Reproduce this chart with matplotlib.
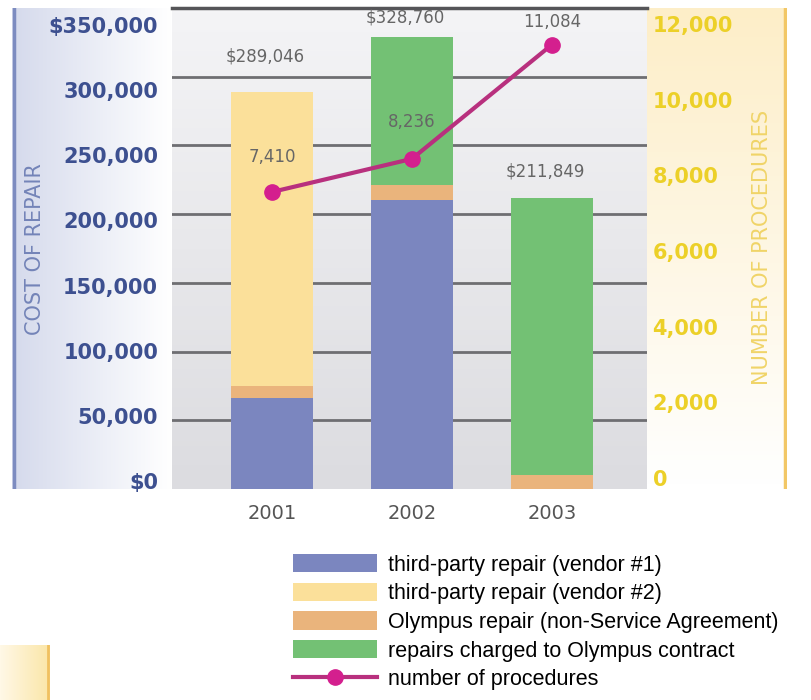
import numpy as np
import matplotlib.pyplot as plt
import matplotlib.transforms as mtransforms
from matplotlib.patches import Patch
from matplotlib.lines import Line2D
from matplotlib.colors import LinearSegmentedColormap

# data
years = ['2001', '2002', '2003']
vendor1 = [66200, 210300, 0]
vendor2 = [214146, 0, 0]
olympus_repair = [8700, 10900, 10000]
contract = [0, 107560, 201849]
totals = [289046, 328760, 211849]
procedures = [7410, 8236, 11084]

series_names = ['third-party repair (vendor #1)', 'third-party repair (vendor #2)',
                'Olympus repair (non-Service Agreement)', 'repairs charged to Olympus contract']
series_colors = ['#7b86bf', '#fbe09a', '#eab47c', '#73c174']
line_color = '#b8307e'
marker_color = '#d41f8e'

plt.rcParams['font.family'] = ['DejaVu Sans']

fig = plt.figure(figsize=(8.12, 7.00), dpi=100)
W, H = 812, 700
bot, top = (H - 489) / H, (H - 8) / H

# left panel (blue -> white gradient)
lp = fig.add_axes([12 / W, bot, 160 / W, top - bot])
lp.imshow(np.linspace(0, 1, 100).reshape(1, -1), aspect='auto', extent=[0, 1, 0, 1],
          cmap=LinearSegmentedColormap.from_list('l', ['#d5daec', '#ffffff']))
lp.axvline(0.01, color='#7d8cc0', lw=2.5)
lp.set_axis_off()

# right panel (white -> cream gradient)
rp = fig.add_axes([647 / W, bot, 140 / W, top - bot])
rp.imshow(np.linspace(0, 1, 100).reshape(-1, 1), aspect='auto', extent=[0, 1, 0, 1],
          cmap=LinearSegmentedColormap.from_list('r', ['#fdeec8', '#ffffff']))
rp.axvline(0.985, color='#f2c766', lw=2.5)
rp.set_axis_off()

# bottom-left decorative square
sq = fig.add_axes([0, 0, 50 / W, 55 / H])
sq.imshow(np.linspace(0, 1, 50).reshape(1, -1), aspect='auto', extent=[0, 1, 0, 1],
          cmap=LinearSegmentedColormap.from_list('s', ['#fff8e6', '#fbe6a8']))
sq.axvline(0.97, color='#f0c060', lw=2)
sq.set_axis_off()

ax = fig.add_axes([172 / W, bot, 475 / W, top - bot])
x = np.arange(len(years))
ax.set_xlim(-0.714, 2.68)
ax.set_ylim(0, 350000)

# plot background
ax.imshow(np.linspace(0, 1, 100).reshape(-1, 1), aspect='auto',
          extent=[-0.714, 2.68, 0, 350000], zorder=0, origin='lower',
          cmap=LinearSegmentedColormap.from_list('b', ['#dcdce0', '#f4f4f6']))

for yv in range(50000, 350001, 50000):
    ax.axhline(yv, color='#6e6e72', lw=2, zorder=1)
ax.axhline(350000, color='#555558', lw=2.5, zorder=1, clip_on=False)

bottom = np.zeros(len(years))
for vals, col in zip([vendor1, olympus_repair, vendor2, contract],
                     [series_colors[0], series_colors[2], series_colors[1], series_colors[3]]):
    ax.bar(x, vals, width=0.59, bottom=bottom, color=col, zorder=2)
    bottom += np.array(vals)

label_offsets = [25500, 14000, 19000]
for xi, t, off in zip(x, totals, label_offsets):
    ax.text(xi - 0.05, t + off, f'${t:,}', ha='center', va='center',
            fontsize=12, color='#666666', zorder=5)

ax.set_xticks(x)
ax.set_xticklabels(years, fontsize=14, color='#555555')
ax.set_yticks(range(0, 350001, 50000))
ax.set_yticklabels(['$0', '50,000', '100,000', '150,000', '200,000', '250,000',
                    '300,000', '$350,000'], fontsize=15, fontweight='bold', color='#3d5090')
ax.tick_params(axis='y', length=0, pad=10)
ax.tick_params(axis='x', length=0, pad=11)
for s in ax.spines.values():
    s.set_visible(False)

ax2 = ax.twinx()
ax2.set_ylim(0, 12000)
ax2.plot(x, procedures, color=line_color, lw=3, marker='o', markersize=11,
         markerfacecolor=marker_color, markeredgecolor=marker_color, zorder=4)
proc_offsets = [870, 920, 570]
for xi, p, off in zip(x, procedures, proc_offsets):
    ax2.text(xi, p + off, f'{p:,}', ha='center', va='center', fontsize=12, color='#666666')
ax2.set_yticks(range(0, 12001, 2000))
ax2.set_yticklabels([f'{v:,}' for v in range(0, 12001, 2000)], fontsize=15,
                    fontweight='bold', color='#ecd028')
ax2.tick_params(axis='y', length=0, pad=4)
for s in ax2.spines.values():
    s.set_visible(False)

# tick labels in the original sit on a slightly compressed scale
for tick, v in zip(ax.yaxis.get_major_ticks(), range(0, 350001, 50000)):
    dy = (8 - 25 * v / 350000) / fig.dpi
    tick.label1.set_transform(tick.label1.get_transform() +
                              mtransforms.ScaledTranslation(0, dy, fig.dpi_scale_trans))
for tick, v in zip(ax2.yaxis.get_major_ticks(), range(0, 12001, 2000)):
    dy = (11 - 27 * v / 12000) / fig.dpi
    tick.label2.set_transform(tick.label2.get_transform() +
                              mtransforms.ScaledTranslation(0, dy, fig.dpi_scale_trans))

fig.text(35 / W, 1 - 249 / H, 'COST OF REPAIR', rotation=90, ha='center', va='center',
         fontsize=15, color='#7484b8')
fig.text(762 / W, 1 - 247 / H, 'NUMBER OF PROCEDURES', rotation=90, ha='center', va='center',
         fontsize=15, color='#f0d468')

# legend
handles = [Patch(facecolor=c, edgecolor='none') for c in series_colors]
handles.append(Line2D([], [], color=line_color, lw=3, marker='o', markersize=11,
                      markerfacecolor=marker_color, markeredgecolor=marker_color))
leg = fig.legend(handles, series_names + ['number of procedures'], loc='upper left',
                 bbox_to_anchor=(293 / W, 1 - 554 / H), frameon=False,
                 borderpad=0, borderaxespad=0,
                 handlelength=3.9, handleheight=0.93, labelspacing=0.33, handletextpad=0.5,
                 prop={'family': ['Liberation Sans'], 'size': 15.5})

fig.savefig('out.png', dpi=100)
